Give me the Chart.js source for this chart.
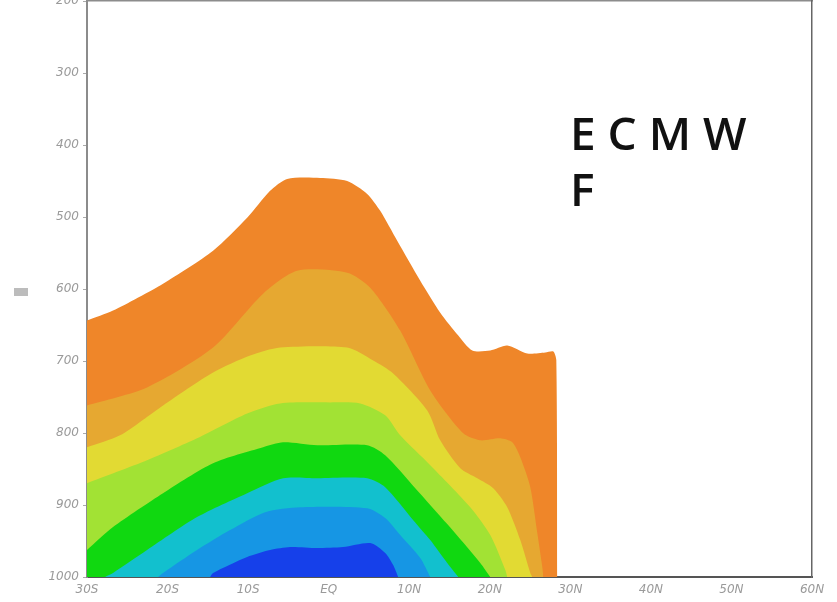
<!DOCTYPE html>
<html>
<head>
<meta charset="utf-8">
<script src="https://cdn.jsdelivr.net/npm/chart.js@4/dist/chart.umd.min.js"></script>
<style>
  html, body { margin: 0; padding: 0; background: #fff; width: 837px; height: 602px; overflow: hidden; }
  #wrap { position: absolute; left: 0; top: -10px; width: 837px; height: 612px; }
  #title { position: absolute; left: 570px; top: 104px; width: 185px; font-family: "Open Sans", "Noto Sans", sans-serif; font-weight: 600; font-size: 46px; line-height: 56px; color: #111; }
  #mark { position: absolute; left: 14px; top: 288px; width: 14px; height: 8px; background: #bcbcbc; }
</style>
</head>
<body>
<div id="wrap"><canvas id="c"></canvas></div>
<div id="mark"></div>
<div id="title">E C M W F</div>
<script>
// Latitude tick labels (x axis from 30S to 60N)
const latTickLabels = ['30S','20S','10S','EQ','10N','20N','30N','40N','50N','60N'];
const latTickValues = [-30,-20,-10,0,10,20,30,40,50,60];
const pressureTicks = [200,300,400,500,600,700,800,900,1000];

// Contour band upper edges: latitude (deg, S negative) and pressure (hPa)
const bandLevels = ['orange','lightOrange','yellow','yellowGreen','green','cyan','lightBlue','blue'];

const latOrange  = [-30,-26.77,-20.56,-14.35,-10.12,-7.27,-5.16,-1.06,2.30,4.78,6.40,8.51,11.37,13.85,16.09,17.83,20.06,22.17,24.66,26.89,27.89,28.26,28.39];
const presOrange = [643.7,629.9,592.5,546.7,501,463.5,446.9,445.5,449.7,467.7,491.3,532.9,588.3,632.7,664.5,685.3,685.3,678.4,689.5,688.1,686.7,699,1000];

const latLightOrange  = [-30,-22.55,-14.35,-8.14,-3.91,2.30,5.16,8.88,12.61,16.71,18.82,21.30,22.80,23.79,25.03,25.90,26.52,26.65];
const presLightOrange = [761.6,736.6,681.2,606.3,574.4,577.2,598.0,657.6,740.8,800.4,810.1,807.3,812.9,833.7,875.2,939.0,986.1,1000];

const latYellow  = [-30,-25.90,-20.56,-14.35,-9.75,-6.02,2.30,5.53,8.01,12.24,13.85,16.34,18.45,20.43,22.17,23.79,25.03,25.28];
const presYellow = [819.8,803.2,761.6,715.8,692.3,681.2,681.2,699.2,717.2,768.5,810.1,848.9,862.8,876.6,903.0,948.7,994.5,1000];

const latYellowGreen  = [-30,-22.55,-16.34,-10.12,-6.02,0.19,3.91,7.02,8.88,12.61,17.58,20.06,21.93,22.17];
const presYellowGreen = [869.7,837.8,807.3,772.7,758.8,757.4,758.8,775.4,803.2,844.7,903.0,941.8,990.3,1000];

const latGreen  = [-30,-26.77,-20.56,-14.35,-8.14,-5.65,-1.43,4.78,7.02,10.75,14.72,18.82,20.06];
const presGreen = [962.6,930.7,883.6,842.0,819.8,812.9,817.0,817.0,830.9,876.6,926.5,980.6,1000];

const latCyan  = [-27.76,-26.77,-22.55,-16.34,-10.12,-5.65,-1.43,4.78,7.02,10.50,12.61,14.72,16.09];
const presCyan = [1000,994.5,962.6,916.8,883.6,862.8,862.8,862.8,875.2,921.0,948.7,980.6,1000];

const latLightBlue  = [-21.18,-20.56,-16.34,-12.24,-7.89,-3.54,4.78,7.02,8.88,11.37,12.61];
const presLightBlue = [1000,994.5,962.6,934.8,909.9,903.0,904.4,918.2,941.8,973.7,1000];

const latBlue  = [-14.72,-14.35,-10.12,-7.27,-4.78,-1.43,1.80,5.16,7.02,8.01,8.63];
const presBlue = [1000,994.5,972.3,962.6,958.4,959.8,958.4,952.9,966.7,983.4,1000];

const bandColors = ['#EF8629','#E6A831','#E2DA33','#A2E234','#10D810','#12C0CE','#1696E4','#1640EA'];

const bands = [
  [latOrange, presOrange], [latLightOrange, presLightOrange], [latYellow, presYellow],
  [latYellowGreen, presYellowGreen], [latGreen, presGreen], [latCyan, presCyan],
  [latLightBlue, presLightBlue], [latBlue, presBlue]
];

// innermost band first so it is drawn on top
const datasets = bands.map((b, i) => ({
  label: bandLevels[i],
  data: b[0].map((x, k) => ({ x: x, y: b[1][k] })),
  borderWidth: 0,
  borderColor: 'rgba(0,0,0,0)',
  backgroundColor: bandColors[i],
  pointRadius: 0,
  tension: 0.25,
  fill: 'start'
})).reverse();

const tickFont = { family: 'DejaVu Sans', size: 12, style: 'italic' };

new Chart(document.getElementById('c'), {
  type: 'line',
  data: { datasets: datasets },
  options: {
    responsive: true,
    maintainAspectRatio: false,
    animation: false,
    layout: { padding: 0 },
    plugins: { legend: { display: false }, tooltip: { enabled: false } },
    scales: {
      x: {
        type: 'linear', position: 'bottom', min: -30, max: 60,
        afterBuildTicks: s => { s.ticks = latTickValues.map(v => ({ value: v })); },
        afterFit: s => { s.height = 25; },
        ticks: { color: '#9a9a9a', font: tickFont, padding: 6, maxRotation: 0,
          callback: v => latTickLabels[latTickValues.indexOf(v)] },
        grid: { display: false, drawTicks: false },
        border: { display: true, color: '#555', width: 2 }
      },
      x2: {
        type: 'linear', position: 'top', min: -30, max: 60,
        afterFit: s => { s.height = 8; },
        ticks: { display: false },
        grid: { display: false },
        border: { display: true, color: '#8c8c8c', width: 1.5 }
      },
      y: {
        type: 'linear', position: 'left', min: 200, max: 1000, reverse: true,
        afterBuildTicks: s => { s.ticks = pressureTicks.map(v => ({ value: v })); },
        afterFit: s => { s.width = 87; },
        ticks: { color: '#9a9a9a', font: tickFont, padding: 4, callback: v => String(v) },
        grid: { display: true, drawOnChartArea: false, drawTicks: true, tickLength: 4, color: '#aaa' },
        border: { display: true, color: '#8c8c8c', width: 2 }
      },
      y2: {
        type: 'linear', position: 'right', min: 200, max: 1000, reverse: true,
        afterFit: s => { s.width = 25; },
        ticks: { display: false },
        grid: { display: false },
        border: { display: true, color: '#666', width: 1.5 }
      }
    }
  }
});
</script>
</body>
</html>
